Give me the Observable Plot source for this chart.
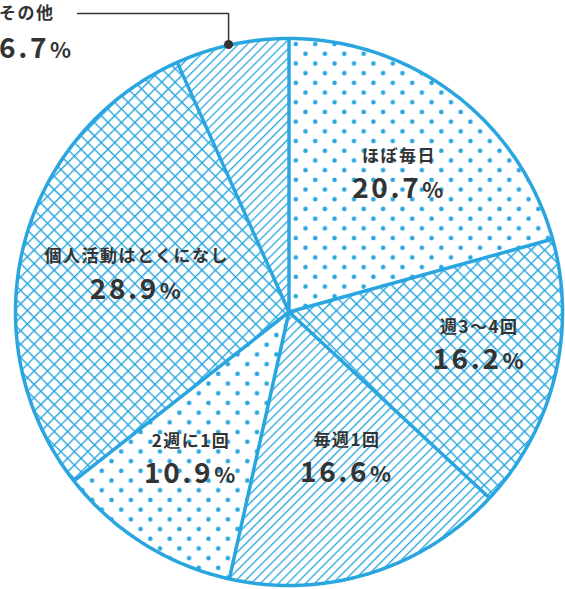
<!DOCTYPE html>
<html><head><meta charset="utf-8">
<script src="https://cdn.jsdelivr.net/npm/d3@7"></script>
<script src="https://cdn.jsdelivr.net/npm/@observablehq/plot@0.6"></script>
<style>
html,body{margin:0;padding:0;background:#fff;}
#chart svg{display:block;}
</style>
</head><body><div id="chart"></div>
<script>
// ---- data ----
const categories = ["ほぼ毎日", "週3〜4回", "毎週1回", "2週に1回", "個人活動はとくになし", "その他"];
const shares = [20.7, 16.2, 16.6, 10.9, 28.9, 6.7];
const percentLabels = ["20.7%", "16.2%", "16.6%", "10.9%", "28.9%", "6.7%"];
const slicePatterns = ["dots", "cross", "hatch", "dots", "cross", "hatch"];

// ---- layout (label placement inside slices) ----
const labelRadius = [0.65, 0.705, 0.568, 0.641, 0.575];
const labelNudgeDeg = [1, -4.4, -4.6, 1.8, 0.5];

const BLUE = "#29a6df";
const INK = "#333333";
const FONT = "'Noto Sans CJK JP', 'Noto Sans', sans-serif";

const total = d3.sum(shares);
let acc = 0;
const slices = shares.map((v, i) => {
  const a0 = acc / total * 2 * Math.PI; acc += v;
  const a1 = acc / total * 2 * Math.PI;
  return {i, a0, a1, mid: (a0 + a1) / 2, cat: categories[i], pct: percentLabels[i]};
});
const polys = slices.map(s => {
  const pts = [{x: 0, y: 0}];
  const n = Math.max(2, Math.ceil((s.a1 - s.a0) / (Math.PI / 360)));
  for (let k = 0; k <= n; k++) {
    const a = s.a0 + (s.a1 - s.a0) * k / n;
    pts.push({x: Math.sin(a), y: Math.cos(a)});
  }
  pts.push({x: 0, y: 0});
  return pts;
});
const circlePts = d3.range(0, 721).map(k => ({x: Math.sin(k / 720 * 2 * Math.PI), y: Math.cos(k / 720 * 2 * Math.PI)}));

const inner = slices.slice(0, 5).map((s, i) => {
  const a = s.mid + labelNudgeDeg[i] * Math.PI / 180;
  return {cat: s.cat, pct: s.pct, x: labelRadius[i] * Math.sin(a), y: labelRadius[i] * Math.cos(a)};
});

// その他: outside label with leader line
const other = slices[5];
const dotPt = {x: Math.sin(other.mid) - 0.012, y: Math.cos(other.mid)};
const otherLabelY = 1.091;
const otherLabelX = -1.06;
const leader = [{x: -0.773, y: otherLabelY}, {x: dotPt.x, y: otherLabelY}, dotPt];

const plot = Plot.plot({
  width: 565, height: 589,
  marginLeft: 15, marginRight: 3, marginTop: 38, marginBottom: 4,
  x: {domain: [-1, 1], axis: null},
  y: {domain: [-1, 1], axis: null},
  style: {fontFamily: FONT, background: "#fff"},
  marks: [
    ...polys.map((pts, i) => Plot.line(pts, {x: "x", y: "y", fill: `url(#pat-${slicePatterns[i]})`, stroke: "none", curve: "linear"})),
    Plot.link(slices, {x1: d => 0, y1: d => 0, x2: d => Math.sin(d.a0), y2: d => Math.cos(d.a0), stroke: BLUE, strokeWidth: 3.5}),
    Plot.line(circlePts, {x: "x", y: "y", stroke: BLUE, strokeWidth: 3.5}),
    Plot.text(inner, {x: "x", y: "y", text: "cat", dy: -16, fontSize: 17, fontWeight: 700, fill: INK}),
    Plot.text(inner, {x: "x", y: "y", text: "pct", dy: 17, fontSize: 28, fontWeight: 700, fill: INK}),
    Plot.line(leader, {x: "x", y: "y", stroke: INK, strokeWidth: 1.5}),
    Plot.dot([dotPt], {x: "x", y: "y", r: 4.5, fill: INK, stroke: "none"}),
    Plot.text([other], {x: d => otherLabelX, y: d => otherLabelY, text: "cat", textAnchor: "start", fontSize: 17, fontWeight: 700, fill: INK}),
    Plot.text([other], {x: d => otherLabelX, y: d => otherLabelY, text: "pct", dy: 35, textAnchor: "start", fontSize: 28, fontWeight: 700, fill: INK})
  ]
});

// patterns
const defs = d3.select(plot).insert("defs", ":first-child");
const pd = defs.append("pattern").attr("id", "pat-dots").attr("patternUnits", "userSpaceOnUse")
  .attr("width", 19.4).attr("height", 19.4);
pd.append("rect").attr("width", 19.4).attr("height", 19.4).attr("fill", "#fff");
pd.append("circle").attr("cx", 14.0).attr("cy", 14.5).attr("r", 2.3).attr("fill", BLUE);
pd.append("circle").attr("cx", 4.3).attr("cy", 4.8).attr("r", 2.3).attr("fill", BLUE);

const pc = defs.append("pattern").attr("id", "pat-cross").attr("patternUnits", "userSpaceOnUse")
  .attr("width", 9.5).attr("height", 9.5).attr("patternTransform", "rotate(45)");
pc.append("rect").attr("width", 9.5).attr("height", 9.5).attr("fill", "#fff");
pc.append("rect").attr("width", 9.5).attr("height", 1.4).attr("fill", BLUE);
pc.append("rect").attr("width", 1.4).attr("height", 9.5).attr("fill", BLUE);

const ph = defs.append("pattern").attr("id", "pat-hatch").attr("patternUnits", "userSpaceOnUse")
  .attr("width", 6.4).attr("height", 6.4).attr("patternTransform", "rotate(45)");
ph.append("rect").attr("width", 6.4).attr("height", 6.4).attr("fill", "#fff");
ph.append("rect").attr("width", 1.3).attr("height", 6.4).attr("fill", BLUE);

// letter spacing, smaller percent sign
d3.select(plot).selectAll("text").each(function() {
  const t = d3.select(this);
  const s = t.text();
  if (percentLabels.includes(s)) {
    t.text(s.slice(0, -1)).style("letter-spacing", "2.6px");
    t.append("tspan").attr("font-size", "0.78em").attr("dx", "1").text("%");
  } else if (categories.includes(s)) {
    t.style("letter-spacing", "1.5px");
  }
});

document.getElementById("chart").appendChild(plot);
</script>
</body></html>
